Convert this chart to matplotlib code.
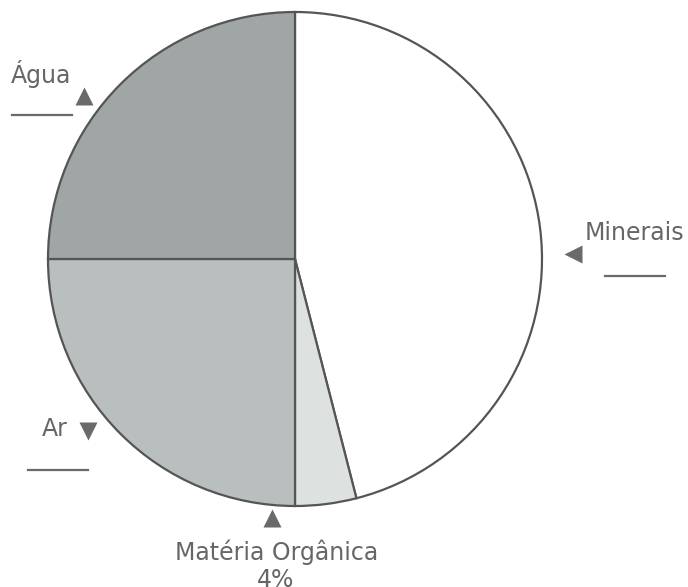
import matplotlib
matplotlib.use("Agg")
import matplotlib.pyplot as plt

categories = ["Minerais", "Matéria Orgânica", "Ar", "Água"]
values = [46, 4, 25, 25]
colors = ["#ffffff", "#dde1e0", "#b9bfbe", "#9fa6a5"]

W, H = 688, 587
fig = plt.figure(figsize=(W / 100, H / 100), dpi=100)
ax = fig.add_axes([0, 0, 1, 1])

cx, cy, r = 295, H - 259, 247
ax.pie(values, colors=colors, startangle=90, counterclock=False,
       center=(cx, cy), radius=r, frame=True,
       wedgeprops=dict(edgecolor="#555555", linewidth=1.6))

ax.set_xlim(0, W)
ax.set_ylim(0, H)
ax.set_aspect("auto")
ax.axis("off")

tc = "#666666"
mc = "#6a6a6a"
fs = 17
ms = 13
def y(p):
    return H - p

# Água
ax.text(11, y(74), categories[3], fontsize=fs, color=tc, ha="left", va="center")
ax.plot([84], [y(96)], marker="^", ms=ms, color=mc, mec="none")
ax.plot([12, 72], [y(115), y(115)], color=mc, lw=1.6)

# Minerais
ax.text(585, y(233), categories[0], fontsize=fs, color=tc, ha="left", va="center")
ax.plot([573], [y(254)], marker="<", ms=ms, color=mc, mec="none")
ax.plot([605, 665], [y(276), y(276)], color=mc, lw=1.6)

# Ar
ax.text(42, y(429), categories[2], fontsize=fs, color=tc, ha="left", va="center")
ax.plot([88], [y(431)], marker="v", ms=ms, color=mc, mec="none")
ax.plot([28, 88], [y(470), y(470)], color=mc, lw=1.6)

# Matéria Orgânica
ax.plot([272], [y(518)], marker="^", ms=ms, color=mc, mec="none")
ax.text(277, y(552), categories[1], fontsize=fs, color=tc, ha="center", va="center")
ax.text(276, y(580), f"{values[1]}%", fontsize=fs, color=tc, ha="center", va="center")

fig.savefig("out.png", dpi=100, facecolor="white")
